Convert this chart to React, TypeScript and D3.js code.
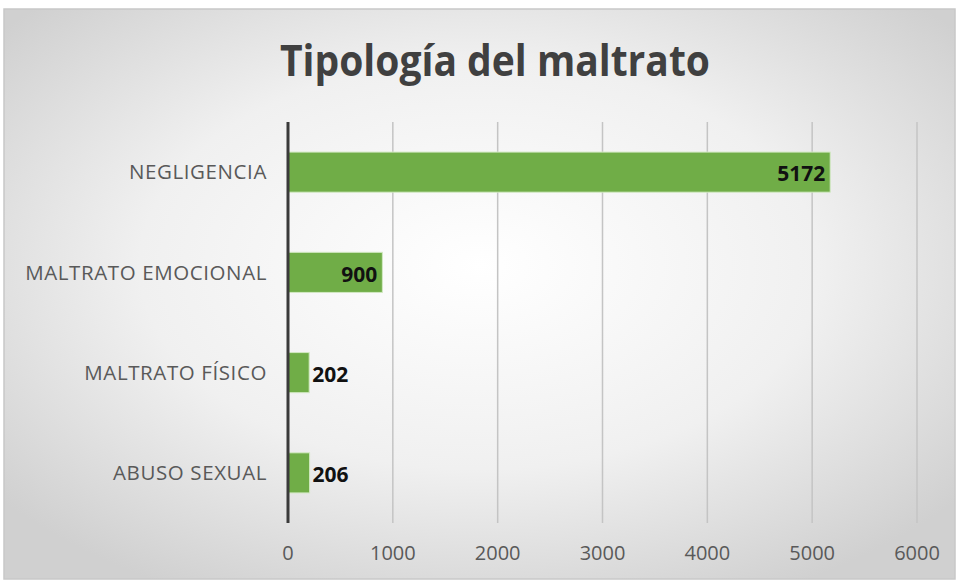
import React from 'react';
import * as d3 from 'd3';

const categories = ['NEGLIGENCIA', 'MALTRATO EMOCIONAL', 'MALTRATO FÍSICO', 'ABUSO SEXUAL'];
const values = [5172, 900, 202, 206];
const ticks = [0, 1000, 2000, 3000, 4000, 5000, 6000];
const title = 'Tipología del maltrato';

const W = 958;
const H = 581;
const font = '"Open Sans", "Noto Sans", sans-serif';

export default function App() {
  const x = d3.scaleLinear().domain([0, 6000]).range([288, 917]);
  const y = d3.scaleBand().domain(categories).range([122, 523]).paddingInner(0.6).paddingOuter(0.3);

  return (
    <svg width={W} height={H} style={{ position: 'absolute', left: 0, top: 0 }}>
      <defs>
        <radialGradient id="bg" cx="50%" cy="45%" r="65%">
          <stop offset="0%" stopColor="#ffffff" />
          <stop offset="55%" stopColor="#f0f0f0" />
          <stop offset="100%" stopColor="#d0d0d0" />
        </radialGradient>
      </defs>
      <rect x={0} y={0} width={W} height={H} fill="#ffffff" />
      <rect x={4} y={9} width={951} height={570} fill="url(#bg)" stroke="#c8c8c8" strokeWidth={1.5} />

      <text
        x={495}
        y={76}
        textAnchor="middle"
        fontFamily={font}
        fontWeight={700}
        fontSize={43}
        fill="#404040"
        textLength={430}
        lengthAdjust="spacingAndGlyphs"
      >
        {title}
      </text>

      {ticks.slice(1).map(t => (
        <line key={t} x1={x(t)} x2={x(t)} y1={122} y2={523} stroke="#c4c4c4" strokeWidth={1.5} />
      ))}

      {categories.map((c, i) => {
        const y0 = y(c)!;
        const bw = y.bandwidth();
        const x1 = x(values[i]);
        const inside = x1 - x(0) > 60;
        return (
          <g key={c}>
            <rect x={x(0)} y={y0} width={x1 - x(0)} height={bw} fill="#70ad47" stroke="#d2e9c2" strokeWidth={1} />
            <text
              x={267}
              y={y0 + bw / 2}
              dy="0.35em"
              textAnchor="end"
              fontFamily={font}
              fontSize={20.5}
              letterSpacing={0.6}
              fill="#595959"
            >
              {c}
            </text>
            <text
              x={inside ? x1 - 5 : x1 + 3}
              y={y0 + bw / 2 + 2}
              dy="0.35em"
              textAnchor={inside ? 'end' : 'start'}
              fontFamily={font}
              fontWeight={700}
              fontSize={21}
              fill="#111"
            >
              {values[i]}
            </text>
          </g>
        );
      })}

      <line x1={x(0)} x2={x(0)} y1={122} y2={523} stroke="#3a3a3a" strokeWidth={3} />

      {ticks.map(t => (
        <text key={t} x={x(t)} y={553} dy="0.35em" textAnchor="middle" fontFamily={font} fontSize={20} fill="#595959">
          {t}
        </text>
      ))}
    </svg>
  );
}
